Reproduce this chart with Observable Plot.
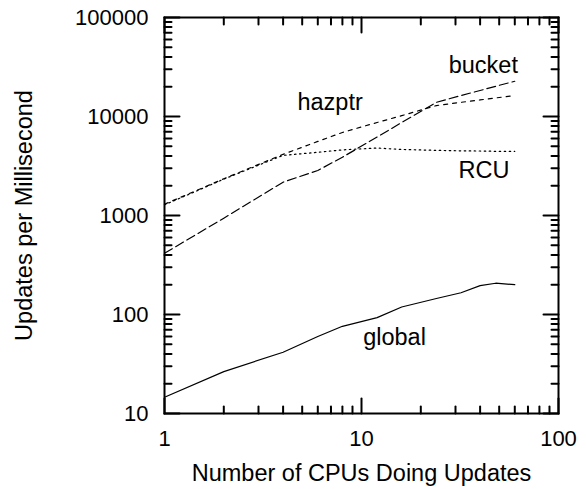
<!DOCTYPE html>
<html><head><meta charset="utf-8">
<script src="https://cdn.jsdelivr.net/npm/d3@7"></script>
<script src="https://cdn.jsdelivr.net/npm/@observablehq/plot@0.6"></script>
<style>body{margin:0;background:#fff}</style>
</head><body><div id="chart"></div>
<script>
// Data
const cpus = [1, 2, 4, 6, 8, 12, 16, 24, 32, 40, 48, 60];
const globalVals = [14.6, 26.5, 41.6, 60, 76, 93, 119, 145, 166, 196, 207, 200];
const bucketVals = [415, 940, 2170, 2850, 3880, 6200, 8700, 13900, 16300, 18300, 20200, 22700];
const hazptrVals = [1300, 2350, 4150, 5600, 6900, 8700, 10200, 12900, 13900, 14700, 15400, 16300];
const rcuVals = [1280, 2330, 4050, 4350, 4600, 4800, 4650, 4550, 4500, 4480, 4450, 4450];

const seriesNames = ["global", "bucket", "hazptr", "RCU"];
const labelX = [10.2, 27.7, 4.73, 31.1];
const labelY = [48.7, 27200, 11500, 2420];

const xMajor = [1, 10, 100];
const xMinor = [2, 3, 4, 5, 6, 7, 8, 9, 20, 30, 40, 50, 60, 70, 80, 90];
const yMajor = [10, 100, 1000, 10000, 100000];
const yMinor = [20, 30, 40, 50, 60, 70, 80, 90, 200, 300, 400, 500, 600, 700, 800, 900,
  2000, 3000, 4000, 5000, 6000, 7000, 8000, 9000, 20000, 30000, 40000, 50000, 60000, 70000, 80000, 90000];
const xTitle = "Number of CPUs Doing Updates";
const yTitle = "Updates per Millisecond";

const allVals = [globalVals, bucketVals, hazptrVals, rcuVals];
const rows = seriesNames.flatMap((s, k) => cpus.map((c, i) => ({series: s, x: c, y: allVals[k][i]})));
const labels = seriesNames.map((s, k) => ({series: s, x: labelX[k], y: labelY[k]}));
const dashes = {global: null, bucket: "9,4", hazptr: "4,5", RCU: "1.5,3.5"};

const fontFamily = "'Liberation Sans', Arial, Helvetica, sans-serif";
const W = 586, H = 489, mL = 164, mR = 28, mT = 17, mB = 76;
const majorLen = 15, minorLen = 7;

const lineMarks = seriesNames.map(s => Plot.line(rows.filter(d => d.series === s), {
  x: "x", y: "y", stroke: "black", strokeWidth: 1.2, strokeDasharray: dashes[s]
}));

// inward tick marks drawn as short vectors anchored on the frame edges
const stick = {draw(context, l) { context.moveTo(0, 0); context.lineTo(0, -l); }};
const tickMark = (data, axis, side, len) => Plot.vector(data, {
  [axis]: d => d, frameAnchor: side, length: len, anchor: "start", shape: stick,
  rotate: side === "bottom" ? 0 : side === "top" ? 180 : side === "left" ? 90 : -90,
  stroke: "black", strokeWidth: 2
});

const chart = Plot.plot({
  width: W, height: H,
  marginLeft: mL, marginRight: mR, marginTop: mT, marginBottom: mB,
  style: {fontFamily, fontSize: "22px", color: "black", background: "white"},
  x: {type: "log", domain: [1, 100], axis: null},
  y: {type: "log", domain: [10, 100000], axis: null},
  length: {type: "identity"},
  marks: [
    ...lineMarks,
    Plot.text(labels, {x: "x", y: "y", text: "series", textAnchor: "start", lineAnchor: "bottom", fill: "black", fontSize: 23.5}),
    tickMark(xMajor, "x", "bottom", majorLen),
    tickMark(xMinor, "x", "bottom", minorLen),
    tickMark(xMajor, "x", "top", majorLen),
    tickMark(xMinor, "x", "top", minorLen),
    tickMark(yMajor, "y", "left", majorLen),
    tickMark(yMinor, "y", "left", minorLen),
    tickMark(yMajor, "y", "right", majorLen),
    tickMark(yMinor, "y", "right", minorLen),
    Plot.text(xMajor, {x: d => d, frameAnchor: "bottom", text: d => String(d), lineAnchor: "top", dy: 17, fill: "black", fontSize: 22}),
    Plot.text(yMajor, {y: d => d, frameAnchor: "left", text: d => String(d), textAnchor: "end", lineAnchor: "middle", dx: -16, fill: "black", fontSize: 22}),
    Plot.text([xTitle], {frameAnchor: "bottom", dy: 67, lineAnchor: "bottom", fill: "black", fontSize: 23.5}),
    Plot.text([yTitle], {frameAnchor: "left", dx: -140, rotate: -90, textAnchor: "middle", lineAnchor: "middle", fill: "black", fontSize: 23.5}),
    Plot.frame({stroke: "black", strokeWidth: 2})
  ]
});
document.getElementById("chart").appendChild(chart);
</script>
</body></html>
